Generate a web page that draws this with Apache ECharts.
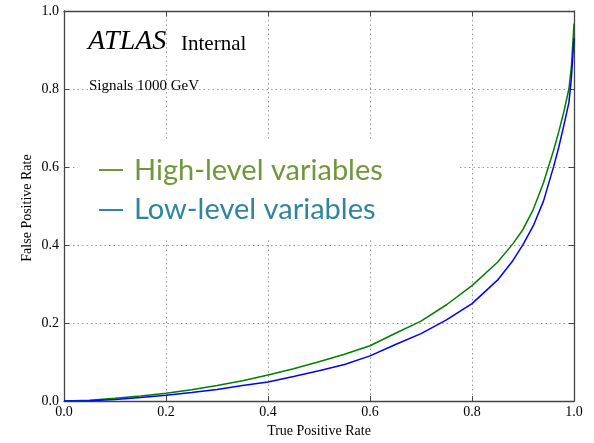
<!DOCTYPE html>
<html>
<head>
<meta charset="utf-8">
<script src="https://cdn.jsdelivr.net/npm/echarts@6/dist/echarts.min.js"></script>
<style>html,body{margin:0;padding:0;background:#fff;}#c{width:594px;height:443px;}</style>
</head>
<body>
<div id="c"></div>
<script>
const tprValues = [0, 0.05, 0.1, 0.15, 0.2, 0.25, 0.3, 0.35, 0.4, 0.45, 0.5, 0.55, 0.6, 0.65, 0.7, 0.75, 0.8, 0.85, 0.88, 0.9, 0.92, 0.94, 0.96, 0.97, 0.98, 0.99, 0.995, 1.0];
const highLevelFpr = [0, 0.002, 0.007, 0.013, 0.020, 0.029, 0.040, 0.052, 0.067, 0.083, 0.101, 0.120, 0.142, 0.174, 0.205, 0.247, 0.296, 0.356, 0.403, 0.440, 0.491, 0.559, 0.643, 0.690, 0.741, 0.800, 0.860, 0.968];
const lowLevelFpr  = [0, 0.001, 0.004, 0.009, 0.015, 0.022, 0.030, 0.040, 0.049, 0.063, 0.078, 0.094, 0.116, 0.145, 0.173, 0.208, 0.250, 0.310, 0.360, 0.401, 0.449, 0.512, 0.601, 0.650, 0.706, 0.765, 0.830, 0.930];
const tickLabels = ['0.0', '0.2', '0.4', '0.6', '0.8', '1.0'];
const seriesNames = ['High-level variables', 'Low-level variables'];

const serif = '"Liberation Serif", "DejaVu Serif", serif';
const chart = echarts.init(document.getElementById('c'), null, {renderer: 'canvas'});
const fmt = v => tickLabels[Math.round(v / 0.2)];
const baseAxis = {
  type: 'value', min: 0, max: 1, interval: 0.2,
  axisLine: {show: true, onZero: false, lineStyle: {color: '#444', width: 1.3}},
  axisTick: {show: true, inside: true, length: 5, lineStyle: {color: '#444'}},
  splitLine: {show: false}
};
chart.setOption({
  animation: false,
  backgroundColor: '#fff',
  grid: {left: 64, top: 11, width: 510, height: 395, containLabel: false},
  xAxis: [
    Object.assign({}, baseAxis, {
      position: 'bottom',
      name: 'True Positive Rate', nameLocation: 'middle', nameGap: 22,
      nameTextStyle: {fontFamily: serif, fontSize: 14, color: '#000'},
      axisLabel: {formatter: fmt, fontFamily: serif, fontSize: 14, color: '#000', margin: 4},
      splitLine: {show: true, lineStyle: {color: '#999', type: [1.5, 3], width: 1}}
    }),
    Object.assign({}, baseAxis, {position: 'top', axisLabel: {show: false}})
  ],
  yAxis: [
    Object.assign({}, baseAxis, {
      position: 'left',
      axisLabel: {formatter: fmt, fontFamily: serif, fontSize: 14, color: '#000', margin: 5},
      splitLine: {show: true, lineStyle: {color: '#999', type: [1.5, 3], width: 1}}
    }),
    Object.assign({}, baseAxis, {position: 'right', axisLabel: {show: false}})
  ],
  series: [
    {name: seriesNames[0], type: 'line', xAxisIndex: 0, yAxisIndex: 0, showSymbol: false, z: 3,
     lineStyle: {color: '#008000', width: 1.5}, itemStyle: {color: '#008000'},
     data: tprValues.map((x, i) => [x, highLevelFpr[i]])},
    {name: seriesNames[1], type: 'line', xAxisIndex: 0, yAxisIndex: 0, showSymbol: false, z: 3,
     lineStyle: {color: '#0000ff', width: 1.5}, itemStyle: {color: '#0000ff'},
     data: tprValues.map((x, i) => [x, lowLevelFpr[i]])}
  ],
  graphic: [
    {type: 'rect', z: 1, shape: {x: 78, y: 139, width: 380, height: 99}, style: {fill: '#fff'}},
    {type: 'line', z: 4, shape: {x1: 99, y1: 170, x2: 123, y2: 170}, style: {stroke: '#70983a', lineWidth: 2}},
    {type: 'line', z: 4, shape: {x1: 99, y1: 210, x2: 123, y2: 210}, style: {stroke: '#2f869c', lineWidth: 2}},
    {type: 'text', z: 4, style: {text: seriesNames[0], x: 134, y: 170.7, verticalAlign: 'middle', font: '29px Lato', fill: '#70983a'}},
    {type: 'text', z: 4, style: {text: seriesNames[1], x: 134, y: 209.3, verticalAlign: 'middle', font: '29px Lato', fill: '#2f869c'}},
    {type: 'text', z: 4, style: {text: 'ATLAS', x: 88, y: 42, verticalAlign: 'middle', font: 'italic 28px "Liberation Serif"', fill: '#000'}},
    {type: 'text', z: 4, style: {text: 'Internal', x: 181, y: 44.5, verticalAlign: 'middle', font: '21px "Liberation Serif"', fill: '#000'}},
    {type: 'text', z: 4, style: {text: 'Signals 1000 GeV', x: 89, y: 86, verticalAlign: 'middle', font: '15px "Liberation Serif"', fill: '#000'}},
    {type: 'text', z: 4, x: 27, y: 208, rotation: Math.PI / 2,
     style: {text: 'False Positive Rate', x: 0, y: 0, align: 'center', verticalAlign: 'middle', font: '14px "Liberation Serif"', fill: '#000'}}
  ]
});
</script>
</body>
</html>
